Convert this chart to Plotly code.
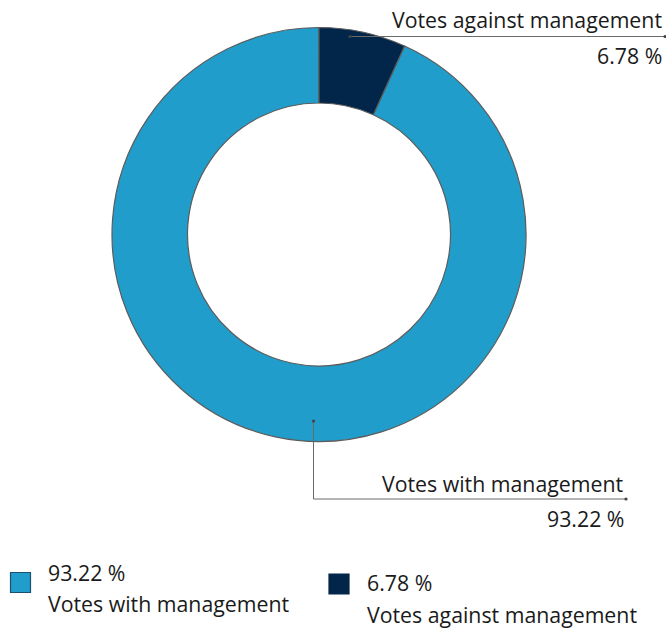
import plotly.graph_objects as go

# Vote breakdown
labels = ["Votes with management", "Votes against management"]
values = [93.22, 6.78]
colors = ["#209DCA", "#02264A"]

W, H = 666, 632


def px(x):
    return x / W


def py(y):
    return 1 - y / H


# Donut geometry (pixels)
cx, cy, r = 319, 234.5, 207
hole = 131.5 / 207

fig = go.Figure()
fig.add_trace(go.Pie(
    labels=labels,
    values=values,
    sort=False,
    direction="clockwise",
    rotation=values[1] / 100 * 360,
    hole=hole,
    textinfo="none",
    hoverinfo="label+percent",
    showlegend=False,
    marker=dict(colors=colors, line=dict(color="#5c5c5c", width=1.2)),
    domain=dict(x=[px(cx - r), px(cx + r)], y=[py(cy + r), py(cy - r)]),
))

font = dict(family="Open Sans, Noto Sans, sans-serif", size=21.3, color="#1a1a1a")
line_style = dict(color="#6a6a6a", width=1)

shapes = []
annotations = []


def dot(x, y):
    shapes.append(dict(type="circle", xref="paper", yref="paper",
                       x0=px(x - 1.6), x1=px(x + 1.6), y0=py(y + 1.6), y1=py(y - 1.6),
                       fillcolor="#444444", line=dict(width=0)))


# Callout for the smaller slice (top right)
shapes.append(dict(type="line", xref="paper", yref="paper",
                   x0=px(350), y0=py(36.5), x1=px(665), y1=py(36.5), line=line_style))
dot(350, 36.5)
dot(665, 36.5)
annotations.append(dict(xref="paper", yref="paper", x=px(664), y=py(20),
                        xanchor="right", yanchor="middle", showarrow=False,
                        text=labels[1], font=font))
annotations.append(dict(xref="paper", yref="paper", x=px(664), y=py(55),
                        xanchor="right", yanchor="middle", showarrow=False,
                        text=f"{values[1]:.2f} %", font=font))

# Callout for the larger slice (bottom)
shapes.append(dict(type="line", xref="paper", yref="paper",
                   x0=px(313.5), y0=py(421), x1=px(313.5), y1=py(499), line=line_style))
shapes.append(dict(type="line", xref="paper", yref="paper",
                   x0=px(313.5), y0=py(499), x1=px(626), y1=py(499), line=line_style))
dot(313.5, 421)
dot(626, 499)
annotations.append(dict(xref="paper", yref="paper", x=px(626), y=py(483),
                        xanchor="right", yanchor="middle", showarrow=False,
                        text=labels[0], font=font))
annotations.append(dict(xref="paper", yref="paper", x=px(626), y=py(518),
                        xanchor="right", yanchor="middle", showarrow=False,
                        text=f"{values[0]:.2f} %", font=font))

# Custom legend: swatch, percentage, then label beneath
legend_items = [
    dict(sw=(10.5, 572.5), tx=46, ty1=572, ty2=603),
    dict(sw=(329, 574), tx=365, ty1=582, ty2=614),
]
for i, item in enumerate(legend_items):
    sx, sy = item["sw"]
    shapes.append(dict(type="rect", xref="paper", yref="paper",
                       x0=px(sx), y0=py(sy + 20), x1=px(sx + 20), y1=py(sy),
                       fillcolor=colors[i],
                       line=dict(color="#1d4f6e" if i == 0 else colors[i], width=1.2)))
    annotations.append(dict(xref="paper", yref="paper", x=px(item["tx"]), y=py(item["ty1"]),
                            xanchor="left", yanchor="middle", showarrow=False,
                            text=f"{values[i]:.2f} %", font=font))
    annotations.append(dict(xref="paper", yref="paper", x=px(item["tx"]), y=py(item["ty2"]),
                            xanchor="left", yanchor="middle", showarrow=False,
                            text=labels[i], font=font))

fig.update_layout(
    width=W, height=H,
    margin=dict(l=0, r=0, t=0, b=0),
    paper_bgcolor="white",
    plot_bgcolor="white",
    shapes=shapes,
    annotations=annotations,
)

fig.write_html("out.html")
